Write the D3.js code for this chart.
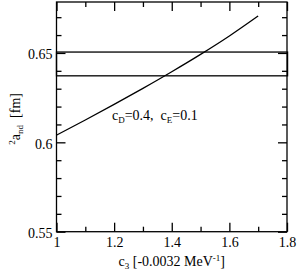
<!DOCTYPE html>
<html><head><meta charset="utf-8">
<script src="https://cdn.jsdelivr.net/npm/d3@7/dist/d3.min.js"></script>
<style>body{margin:0;background:#fff}svg{display:block}</style>
</head><body><svg id="c" width="297" height="274"></svg>
<script>
const c3 = [1.0, 1.1, 1.2, 1.3, 1.4, 1.5, 1.6, 1.7];
const a_nd = [0.604, 0.6125, 0.6212, 0.6302, 0.6395, 0.6492, 0.6595, 0.6707];
const band = [0.6372, 0.6505];
const xTicks = [1, 1.2, 1.4, 1.6, 1.8];
const xMinor = [1.1, 1.3, 1.5, 1.7];
const yTicks = [0.55, 0.6, 0.65];
const yMinor = [0.56,0.57,0.58,0.59,0.61,0.62,0.63,0.64,0.66,0.67];

const FONT = "'Liberation Serif', 'Times New Roman', Times, serif";
const svg = d3.select("#c");
const L=56.5, R=287, T=2, B=231.7;
const x = d3.scaleLinear().domain([1,1.8]).range([L,R]);
const y = d3.scaleLinear().domain([0.55,0.6785]).range([B,T]);
const g = svg.append("g");
const sw = 1.3;

function styleAxis(s){
  s.select(".domain").remove();
  s.selectAll("line").attr("stroke","#000").attr("stroke-width",sw);
  s.selectAll("text").style("font-family",FONT).style("font-size","14px").attr("fill","#000");
}
function xt(vals,len,labels){
  g.append("g").attr("transform",`translate(0,${B})`)
   .call(d3.axisBottom(x).tickValues(vals).tickSize(-len).tickFormat(labels? d3.format("") : ""))
   .call(styleAxis).call(s=>s.selectAll("text").attr("y",5).attr("dy","0.71em"));
  g.append("g").attr("transform",`translate(0,${T})`)
   .call(d3.axisTop(x).tickValues(vals).tickSize(-len).tickFormat(""))
   .call(styleAxis);
}
function yt(vals,len,labels){
  g.append("g").attr("transform",`translate(${L},0)`)
   .call(d3.axisLeft(y).tickValues(vals).tickSize(-len).tickFormat(labels? d3.format("") : ""))
   .call(styleAxis).call(s=>s.selectAll("text").attr("x",-4).attr("dy","0.42em"));
  g.append("g").attr("transform",`translate(${R},0)`)
   .call(d3.axisRight(y).tickValues(vals).tickSize(-len).tickFormat(""))
   .call(styleAxis);
}
xt(xTicks,9,true); xt(xMinor,5,false);
yt(yTicks,9,true); yt(yMinor,5,false);

// band
g.append("rect").attr("x",x(1)).attr("y",y(band[1])).attr("width",x(1.802)-x(1)).attr("height",y(band[0])-y(band[1]))
 .attr("fill","none").attr("stroke","#000").attr("stroke-width",sw);

// curve
g.append("path").datum(c3.map((v,i)=>[v,a_nd[i]]))
 .attr("d",d3.line().x(d=>x(d[0])).y(d=>y(d[1])).curve(d3.curveMonotoneX))
 .attr("fill","none").attr("stroke","#000").attr("stroke-width",sw);

// frame
g.append("rect").attr("x",L).attr("y",T).attr("width",R-L).attr("height",B-T)
 .attr("fill","none").attr("stroke","#000").attr("stroke-width",sw);

function txt(){ return svg.append("text").style("font-family",FONT).style("font-size","14px").style("white-space","pre").attr("fill","#000"); }

// annotation
const ann = txt().attr("x",112).attr("y",120);
ann.append("tspan").text("c");
ann.append("tspan").text("D").style("font-size","9px").attr("dy",3);
ann.append("tspan").text("=0.4,  c").attr("dy",-3);
ann.append("tspan").text("E").style("font-size","9px").attr("dy",3);
ann.append("tspan").text("=0.1").attr("dy",-3);

// x label
const xl = txt().attr("x",(L+R)/2).attr("y",266).attr("text-anchor","middle");
xl.append("tspan").text("c");
xl.append("tspan").text("3").style("font-size","9px").attr("dy",3);
xl.append("tspan").text(" [-0.0032 MeV").attr("dy",-3);
xl.append("tspan").text("-1").style("font-size","9px").attr("dy",-5);
xl.append("tspan").text("]").attr("dy",5);

// y label
const yl = txt().attr("transform",`translate(20,${(T+B)/2+2}) rotate(-90)`).attr("text-anchor","middle");
yl.append("tspan").text("2").style("font-size","9px").attr("dy",-5);
yl.append("tspan").text("a").attr("dy",5);
yl.append("tspan").text("nd").style("font-size","9px").attr("dy",3);
yl.append("tspan").text("  [fm]").attr("dy",-3);
</script></body></html>
